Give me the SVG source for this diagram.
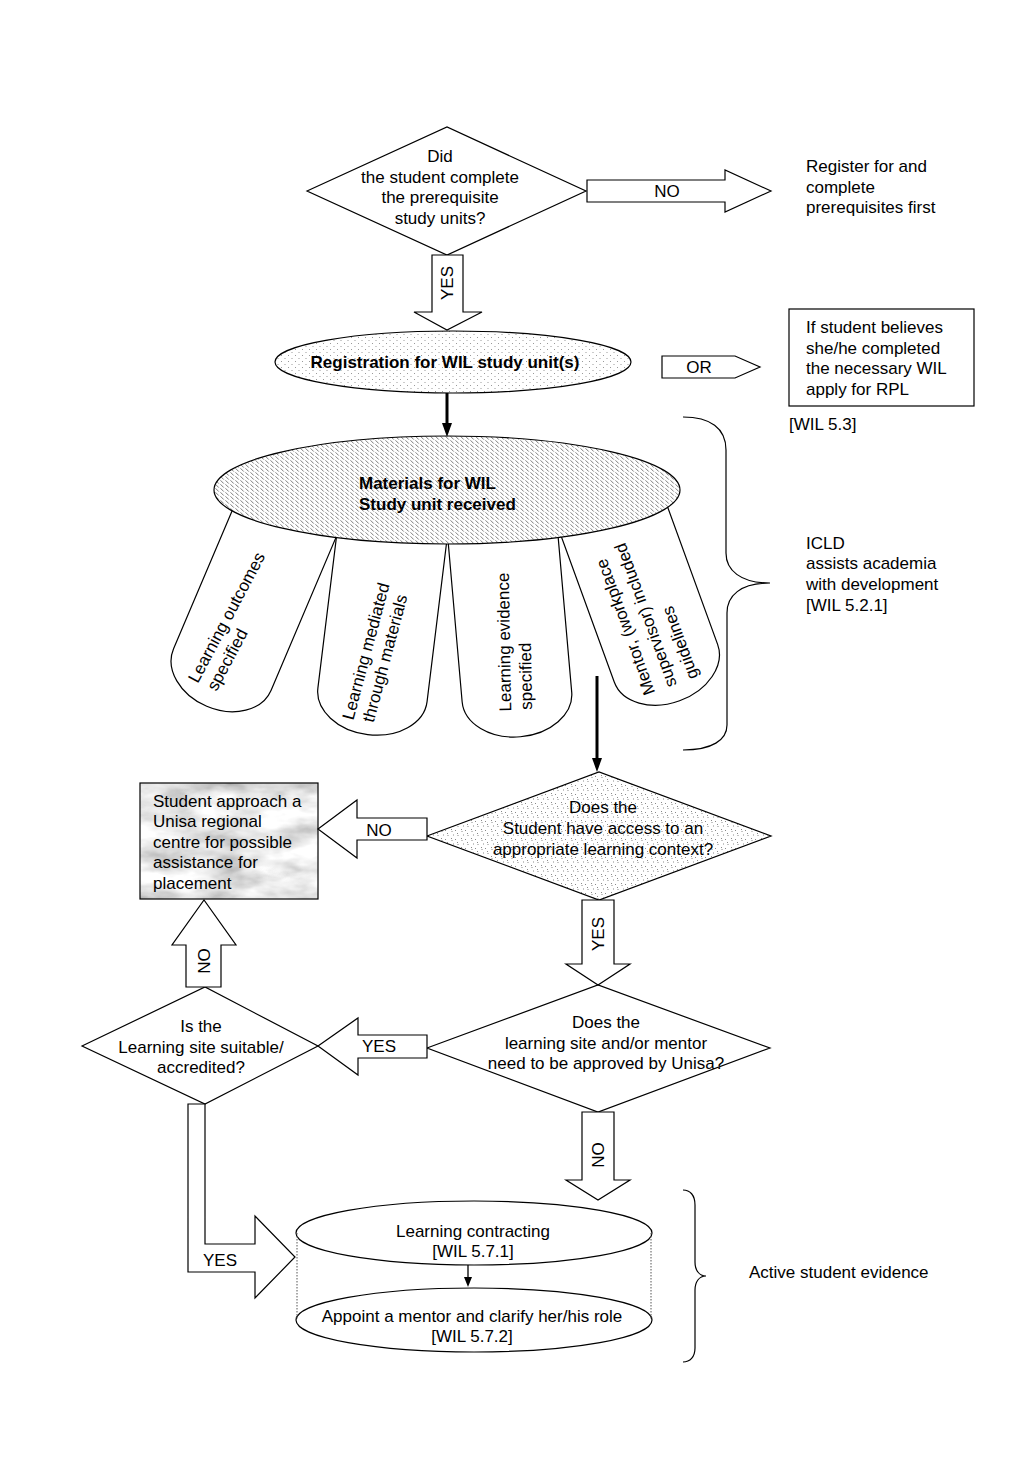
<svg xmlns="http://www.w3.org/2000/svg" width="1024" height="1479" viewBox="0 0 1024 1479">
<style>
.w{fill:#fff;stroke:#000;stroke-width:1.2}
.s{fill:none;stroke:#000;stroke-width:1.2}
text{font-family:"Liberation Sans",Arial,sans-serif;font-size:17px;fill:#000}
.b{font-weight:bold}
.m{text-anchor:middle}
</style>
<defs>
<pattern id="dots" width="7" height="6" patternUnits="userSpaceOnUse"><rect width="7" height="6" fill="#fff"/><rect x="1" y="1" width="1" height="1" fill="#9a9a9a"/><rect x="4.5" y="4" width="1" height="1" fill="#9a9a9a"/></pattern>
<pattern id="hatch" width="5" height="4" patternUnits="userSpaceOnUse"><rect width="5" height="4" fill="#fff"/><path d="M0.5,0.3 L3.8,3.6" stroke="#6e6e6e" stroke-width="0.9"/></pattern>
<pattern id="conf" width="10" height="9" patternUnits="userSpaceOnUse"><rect width="10" height="9" fill="#fff"/><g fill="#8a8a8a"><rect x="1" y="1" width="1" height="1"/><rect x="1.5" y="3" width="1" height="1"/><rect x="5" y="2" width="1" height="1"/><rect x="7" y="5" width="1" height="1"/><rect x="7.5" y="7" width="1" height="1"/><rect x="3" y="6.5" width="1" height="1"/></g></pattern>
<filter id="marble" x="0" y="0" width="1" height="1"><feTurbulence type="fractalNoise" baseFrequency="0.02 0.045" numOctaves="4" seed="3"/><feColorMatrix type="matrix" values="0.7 0.7 0 0 0.12 0.7 0.7 0 0 0.12 0.7 0.7 0 0 0.12 0 0 0 0 1"/></filter>
<marker id="ah" viewBox="0 0 14 10" refX="4" refY="5" markerWidth="14" markerHeight="10" markerUnits="userSpaceOnUse" orient="auto"><path d="M0,0 L14,5 L0,10 Z" fill="#000"/></marker>
<marker id="ah2" viewBox="0 0 10 8" refX="2" refY="4" markerWidth="10" markerHeight="8" markerUnits="userSpaceOnUse" orient="auto"><path d="M0,0 L10,4 L0,8 Z" fill="#000"/></marker>
</defs>

<g id="q1">
<polygon class="w" points="307,191 447,127 586,191 447,255"/>
<text class="m" x="440" y="162">Did</text>
<text class="m" x="440" y="182.5">the student complete</text>
<text class="m" x="440" y="203">the prerequisite</text>
<text class="m" x="440" y="223.5">study units?</text>
</g>

<g id="prereq">
<text x="806" y="172">Register for and</text>
<text x="806" y="192.5">complete</text>
<text x="806" y="213">prerequisites first</text>
</g>

<g id="reg">
<ellipse cx="453" cy="362" rx="178" ry="31" fill="url(#dots)" stroke="#000" stroke-width="1.2"/>
<text class="m b" x="445" y="368">Registration for WIL study unit(s)</text>
</g>

<g id="rpl">
<rect class="w" x="789" y="309" width="185" height="97"/>
<text x="806" y="333">If student believes</text>
<text x="806" y="354">she/he completed</text>
<text x="806" y="374">the necessary WIL</text>
<text x="806" y="395">apply for RPL</text>
<text x="789" y="430">[WIL 5.3]</text>
</g>

<g id="tab1" transform="translate(279,536) rotate(23)">
<path class="w" d="M-53,-40 L-53,145 A53,40 0 0 0 53,145 L53,-40 Z"/>
<text transform="translate(-17,168) rotate(-85)">Learning outcomes</text>
<text transform="translate(3.5,168) rotate(-85)">specified</text>
</g>
<g id="tab2" transform="translate(391,544) rotate(7)">
<path class="w" d="M-55,-40 L-55,152 A55,40 0 0 0 55,152 L55,-40 Z"/>
<text transform="translate(-16,180) rotate(-82)">Learning mediated</text>
<text transform="translate(4.5,180) rotate(-82)">through materials</text>
</g>
<g id="tab3" transform="translate(503.5,543.5) rotate(-5)">
<path class="w" d="M-55,-40 L-55,154 A55,40 0 0 0 55,154 L55,-40 Z"/>
<text transform="translate(-7,168) rotate(-86)">Learning evidence</text>
<text transform="translate(14,168) rotate(-86)">specified</text>
</g>
<g id="tab4" transform="translate(616,526) rotate(-20)">
<path class="w" d="M-55,-40 L-55,146 A55,40 0 0 0 55,146 L55,-40 Z"/>
<text transform="translate(-20,170) rotate(-90)">Mentor, (workplace</text>
<text transform="translate(3,170) rotate(-90)">supervisor) included</text>
<text transform="translate(26,170) rotate(-90)">guidelines</text>
</g>

<g id="materials">
<ellipse cx="447" cy="490" rx="233" ry="54" fill="url(#hatch)" stroke="#000" stroke-width="1.2"/>
<text class="b" x="359" y="489">Materials for WIL</text>
<text class="b" x="359" y="510">Study unit received</text>
</g>

<g id="icld">
<text x="806" y="549">ICLD</text>
<text x="806" y="569">assists academia</text>
<text x="806" y="590">with development</text>
<text x="806" y="611">[WIL 5.2.1]</text>
</g>

<g id="q2">
<polygon points="427,836 599,772 771,836 599,900" fill="url(#conf)" stroke="#000" stroke-width="1.2"/>
<text class="m" x="603" y="813">Does the</text>
<text class="m" x="603" y="834">Student have access to an</text>
<text class="m" x="603" y="855">appropriate learning context?</text>
</g>

<g id="regional">
<rect x="140" y="783" width="178" height="116" fill="#ccc" filter="url(#marble)"/>
<rect class="s" x="140" y="783" width="178" height="116"/>
<text x="153" y="807">Student approach a</text>
<text x="153" y="827">Unisa regional</text>
<text x="153" y="848">centre for possible</text>
<text x="153" y="868">assistance for</text>
<text x="153" y="889">placement</text>
</g>

<g id="q3">
<polygon class="w" points="427,1048 598,985 770,1048 598,1112"/>
<text class="m" x="606" y="1028">Does the</text>
<text class="m" x="606" y="1049">learning site and/or mentor</text>
<text class="m" x="606" y="1069">need to be approved by Unisa?</text>
</g>

<g id="q4">
<polygon class="w" points="82,1046 205,987 318,1046 205,1104"/>
<text class="m" x="201" y="1032">Is the</text>
<text class="m" x="201" y="1053">Learning site suitable/</text>
<text class="m" x="201" y="1073">accredited?</text>
</g>

<g id="contract">
<ellipse class="w" cx="474" cy="1320" rx="178" ry="32"/>
<ellipse class="w" cx="474" cy="1233" rx="178" ry="32"/>
<path d="M297,1233 V1320 M651,1233 V1320" fill="none" stroke="#555" stroke-width="1" stroke-dasharray="1.5,1.5"/>
<text class="m" x="473" y="1237">Learning contracting</text>
<text class="m" x="473" y="1257">[WIL 5.7.1]</text>
<text class="m" x="472" y="1322">Appoint a mentor and clarify her/his role</text>
<text class="m" x="472" y="1342">[WIL 5.7.2]</text>
</g>

<g id="active">
<text x="749" y="1278">Active student evidence</text>
</g>

<g id="connectors">
<polygon class="w" points="587,180 725,180 725,170 771,191 725,212 725,202 587,202"/>
<text class="m" x="667" y="197">NO</text>
<polygon class="w" points="432,255 463,255 463,312 482,312 447,330 414,312 432,312"/>
<text class="m" transform="translate(453,283) rotate(-90)">YES</text>
<polygon class="w" points="662,356 735,356 760,367 735,378 662,378"/>
<text class="m" x="699" y="373">OR</text>
<line x1="447" y1="393" x2="447" y2="427" stroke="#000" stroke-width="3" marker-end="url(#ah)"/>
<line x1="597" y1="676" x2="597" y2="762" stroke="#000" stroke-width="3" marker-end="url(#ah)"/>
<path class="s" d="M683,417 C710,417 726,428 726,450 L726,553 C726,570 740,583 770,583 C740,583 727,596 727,613 L727,725 C727,740 712,750 683,750"/>
<polygon class="w" points="427,818 357,818 357,800 318,829 357,858 357,840 427,840"/>
<text class="m" x="379" y="836">NO</text>
<polygon class="w" points="582,900 614,900 614,964 630,964 598,985 566,964 582,964"/>
<text class="m" transform="translate(604,934) rotate(-90)">YES</text>
<polygon class="w" points="427,1035 358,1035 358,1018 318,1046 358,1075 358,1058 427,1058"/>
<text class="m" x="379" y="1052">YES</text>
<polygon class="w" points="186,987 221,987 221,945 236,945 204,900 172,945 186,945"/>
<text class="m" transform="translate(210,961) rotate(-90)">NO</text>
<polygon class="w" points="582,1112 614,1112 614,1180 630,1180 598,1200 566,1180 582,1180"/>
<text class="m" transform="translate(604,1155) rotate(-90)">NO</text>
<polygon class="w" points="188,1104 205,1104 205,1244 255,1244 255,1216 295,1257 255,1298 255,1272 188,1272"/>
<text class="m" x="220" y="1266">YES</text>
<line x1="468" y1="1265" x2="468" y2="1279" stroke="#000" stroke-width="1.3" marker-end="url(#ah2)"/>
<path class="s" d="M683,1190 C690,1190 695,1195 695,1205 L695,1262 C695,1270 699,1276 706,1276 C699,1276 695,1282 695,1290 L695,1348 C695,1357 690,1362 683,1362"/>
</g>
</svg>
